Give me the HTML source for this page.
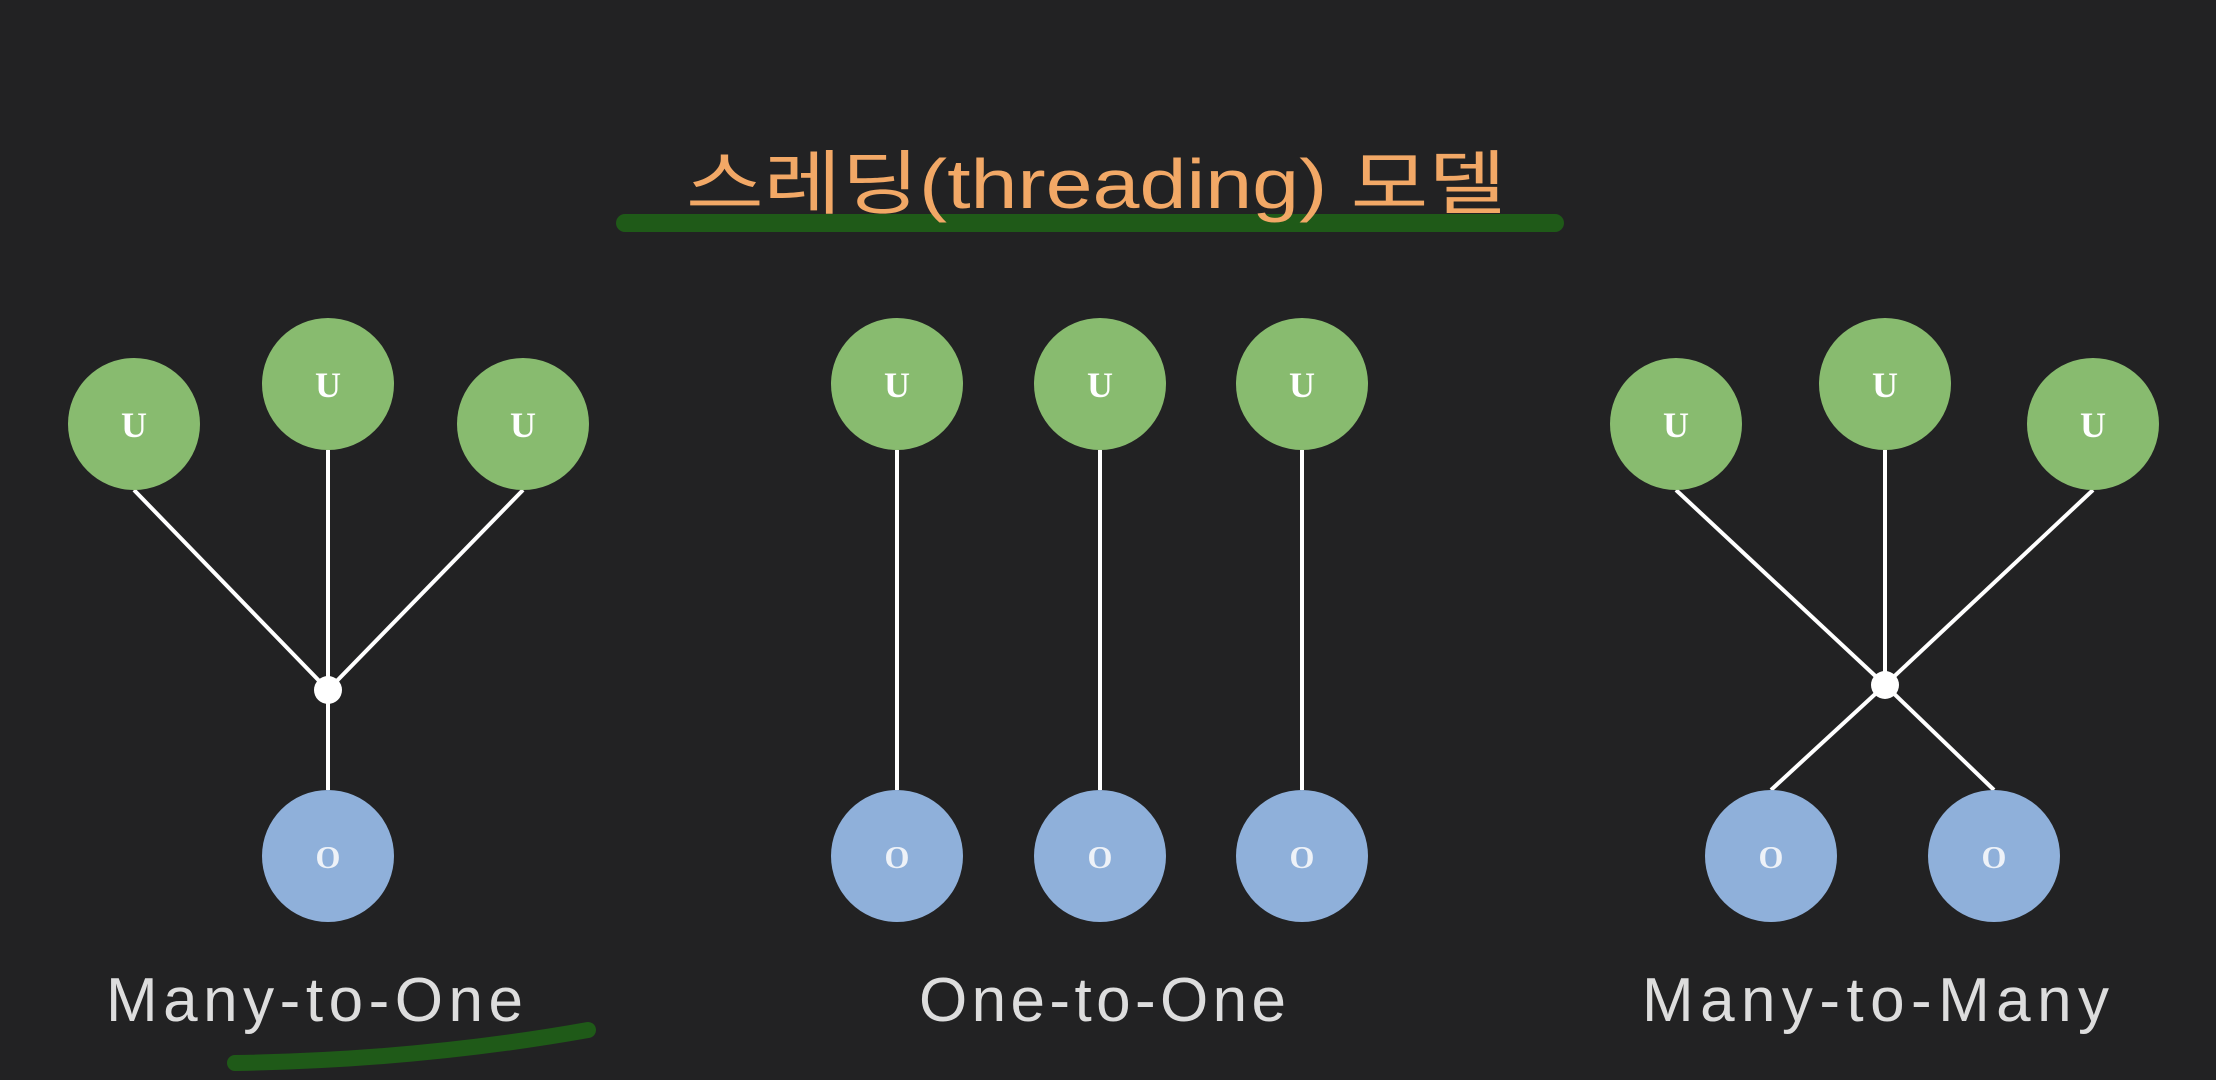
<!DOCTYPE html>
<html><head><meta charset="utf-8"><style>
html,body{margin:0;padding:0;background:#222223;}
svg{display:block}
</style></head><body>
<svg width="2216" height="1080" viewBox="0 0 2216 1080" xmlns="http://www.w3.org/2000/svg">
<rect width="2216" height="1080" fill="#222223"/>
<line x1="625" y1="223" x2="1555" y2="223" stroke="#1f5a18" stroke-width="18" stroke-linecap="round"/>
<text x="1096" y="208" text-anchor="middle" font-family="Liberation Sans, 'Noto Sans CJK KR', sans-serif" font-size="70" fill="#f2a866" textLength="820" lengthAdjust="spacingAndGlyphs">스레딩(threading) 모델</text>
<g stroke="#ffffff" stroke-width="4">
<line x1="134" y1="490" x2="328" y2="690"/>
<line x1="328" y1="450" x2="328" y2="790"/>
<line x1="523" y1="490" x2="328" y2="690"/>
<line x1="897" y1="450" x2="897" y2="790"/>
<line x1="1100" y1="450" x2="1100" y2="790"/>
<line x1="1302" y1="450" x2="1302" y2="790"/>
<line x1="1676" y1="490" x2="1885" y2="685"/>
<line x1="1885" y1="450" x2="1885" y2="685"/>
<line x1="2093" y1="490" x2="1885" y2="685"/>
<line x1="1885" y1="685" x2="1771" y2="790"/>
<line x1="1885" y1="685" x2="1994" y2="790"/>
</g>
<circle cx="328" cy="690" r="14" fill="#fff"/>
<circle cx="1885" cy="685" r="14" fill="#fff"/>
<g fill="#88bb6f">
<circle cx="134" cy="424" r="66"/><circle cx="328" cy="384" r="66"/><circle cx="523" cy="424" r="66"/>
<circle cx="897" cy="384" r="66"/><circle cx="1100" cy="384" r="66"/><circle cx="1302" cy="384" r="66"/>
<circle cx="1676" cy="424" r="66"/><circle cx="1885" cy="384" r="66"/><circle cx="2093" cy="424" r="66"/>
</g>
<g fill="#8fb0da">
<circle cx="328" cy="856" r="66"/>
<circle cx="897" cy="856" r="66"/><circle cx="1100" cy="856" r="66"/><circle cx="1302" cy="856" r="66"/>
<circle cx="1771" cy="856" r="66"/><circle cx="1994" cy="856" r="66"/>
</g>
<g font-family="Liberation Serif, serif" font-weight="bold" font-size="36" fill="#ffffff" text-anchor="middle">
<text x="134" y="437">U</text><text x="328" y="397">U</text><text x="523" y="437">U</text>
<text x="897" y="397">U</text><text x="1100" y="397">U</text><text x="1302" y="397">U</text>
<text x="1676" y="437">U</text><text x="1885" y="397">U</text><text x="2093" y="437">U</text>
</g>
<g font-family="Liberation Serif, serif" font-weight="bold" font-size="32" fill="#eef2f8" text-anchor="middle">
<text x="328" y="868">O</text>
<text x="897" y="868">O</text><text x="1100" y="868">O</text><text x="1302" y="868">O</text>
<text x="1771" y="868">O</text><text x="1994" y="868">O</text>
</g>
<g font-family="Liberation Sans, sans-serif" font-size="62" fill="#dddddd">
<text x="106" y="1021" textLength="417" lengthAdjust="spacing">Many-to-One</text>
<text x="919" y="1021" textLength="367" lengthAdjust="spacing">One-to-One</text>
<text x="1642" y="1021" textLength="467" lengthAdjust="spacing">Many-to-Many</text>
</g>
<path d="M235 1063 Q420 1060 588 1030" stroke="#1f5a18" stroke-width="16" fill="none" stroke-linecap="round"/>
</svg>
</body></html>
